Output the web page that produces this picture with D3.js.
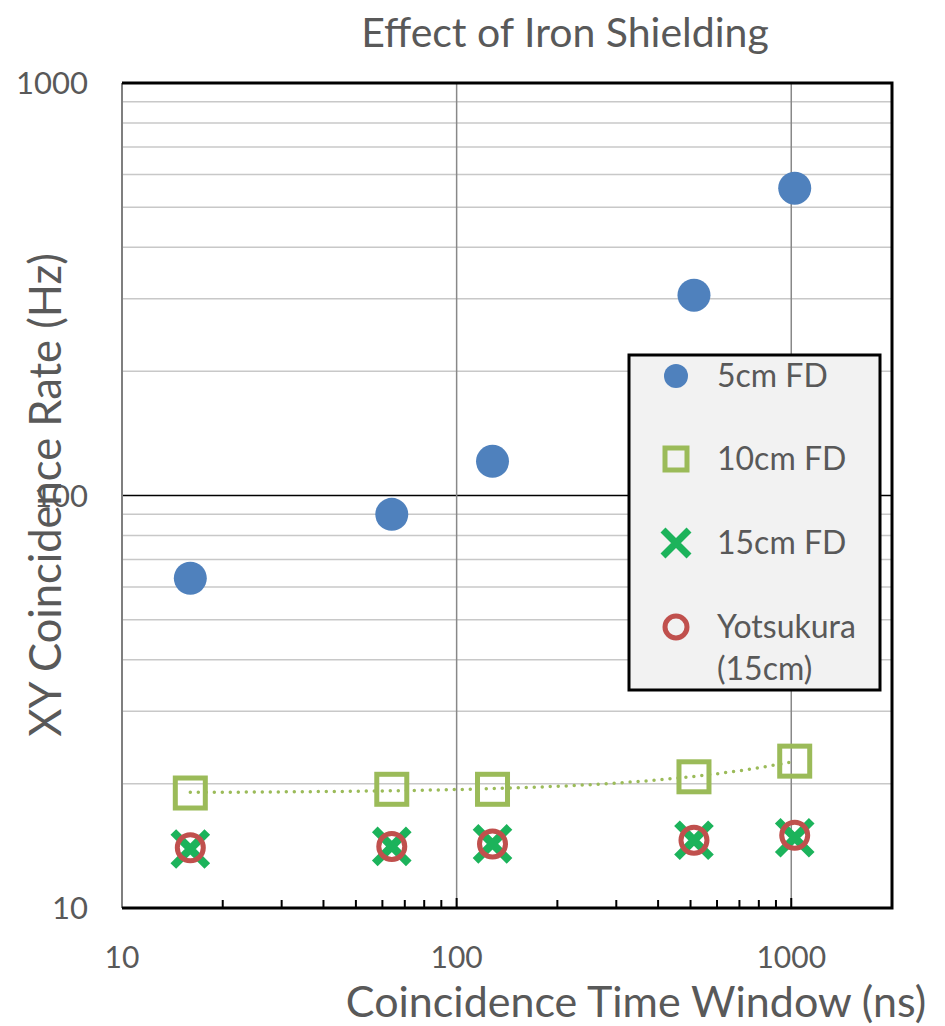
<!DOCTYPE html>
<html>
<head>
<meta charset="utf-8">
<script src="https://cdn.jsdelivr.net/npm/d3@7"></script>
<style>
  body { margin: 0; background: #fff; }
  text { font-family: Lato, "Open Sans", sans-serif; fill: #595959; }
</style>
</head>
<body>
<div id="chart"></div>
<script>
// Data
const windows = [16, 64, 128, 512, 1024];
const fd5 = [63, 90, 121, 306, 556];
const fd10 = [19.0, 19.4, 19.4, 20.8, 22.7];
const fd15 = [13.9, 14.1, 14.3, 14.6, 14.8];
const yotsukura = [14.0, 14.1, 14.3, 14.6, 15.0];
const xTicks = [10, 100, 1000];
const yTicks = [10, 100, 1000];
const legendLabels = ["5cm FD", "10cm FD", "15cm FD", ["Yotsukura", "(15cm)"]];

const chartWidth = 945;
const chartHeight = 1026;
const plotLeft = 122, plotRight = 892, plotTop = 83, plotBottom = 908;

const xScale = d3.scaleLog().domain([10, 2000]).range([plotLeft, plotRight]);
const yScale = d3.scaleLog().domain([10, 1000]).range([plotBottom, plotTop]);

const svg = d3.select("#chart")
    .append("svg")
    .attr("width", chartWidth)
    .attr("height", chartHeight);

// minor horizontal gridlines
const minorY = [];
[10, 100].forEach(d => { for (let k = 2; k <= 9; k++) minorY.push(d * k); });
svg.append("g").selectAll("line").data(minorY).join("line")
    .attr("x1", plotLeft).attr("x2", plotRight)
    .attr("y1", d => yScale(d)).attr("y2", d => yScale(d))
    .attr("stroke", "#c8c8c8").attr("stroke-width", 1.5);

// major gridlines
svg.append("line")
    .attr("x1", plotLeft).attr("x2", plotRight)
    .attr("y1", yScale(100)).attr("y2", yScale(100))
    .attr("stroke", "#000").attr("stroke-width", 1.5);
svg.append("g").selectAll("line").data([100, 1000]).join("line")
    .attr("x1", d => xScale(d)).attr("x2", d => xScale(d))
    .attr("y1", plotTop).attr("y2", plotBottom)
    .attr("stroke", "#888").attr("stroke-width", 1.5);

// x minor ticks (inside)
const minorX = [];
[10, 100, 1000].forEach(d => { for (let k = 1; k <= 9; k++) if (d * k <= 2000) minorX.push(d * k); });
svg.append("g").selectAll("line").data(minorX).join("line")
    .attr("x1", d => xScale(d)).attr("x2", d => xScale(d))
    .attr("y1", plotBottom).attr("y2", d => (xTicks.includes(d) ? plotBottom - 10 : plotBottom - 8))
    .attr("stroke", "#000").attr("stroke-width", 2);

// frame
svg.append("line").attr("x1", plotLeft).attr("x2", plotLeft).attr("y1", plotTop).attr("y2", plotBottom)
    .attr("stroke", "#7f7f7f").attr("stroke-width", 2);
svg.append("path")
    .attr("d", `M${plotLeft},${plotTop}H${plotRight}V${plotBottom}H${plotLeft}`)
    .attr("fill", "none").attr("stroke", "#000").attr("stroke-width", 3);

// tick labels
svg.append("g").selectAll("text").data(xTicks).join("text")
    .attr("x", d => xScale(d)).attr("y", 968)
    .attr("text-anchor", "middle").attr("font-size", 30)
    .text(d => d);
svg.append("g").selectAll("text").data(yTicks).join("text")
    .attr("x", 88).attr("y", d => yScale(d) + 11)
    .attr("text-anchor", "end").attr("font-size", 31)
    .text(d => d);

// titles
svg.append("text").attr("x", 565).attr("y", 47)
    .attr("text-anchor", "middle").attr("font-size", 41)
    .text("Effect of Iron Shielding");
svg.append("text").attr("x", 636).attr("y", 1017)
    .attr("text-anchor", "middle").attr("font-size", 43)
    .text("Coincidence Time Window (ns)");
svg.append("text")
    .attr("transform", `translate(61,495) rotate(-90)`)
    .attr("text-anchor", "middle").attr("font-size", 43.5)
    .text("XY Coincidence Rate (Hz)");

// linear trendline for 10cm FD
const n = windows.length;
const mx = d3.mean(windows), my = d3.mean(fd10);
const slope = d3.sum(windows, (x, i) => (x - mx) * (fd10[i] - my)) / d3.sum(windows, x => (x - mx) ** 2);
const intercept = my - slope * mx;
const trendX = d3.range(0, 201).map(i => windows[0] + (windows[n - 1] - windows[0]) * i / 200);
svg.append("path")
    .datum(trendX)
    .attr("fill", "none").attr("stroke", "#9bbb59").attr("stroke-width", 3.5)
    .attr("stroke-dasharray", "0,8").attr("stroke-linecap", "round")
    .attr("d", d3.line().x(d => xScale(d)).y(d => yScale(intercept + slope * d)));

// markers
const drawSquare = (g, x, y) => g.append("rect")
    .attr("x", x - 15).attr("y", y - 15).attr("width", 30).attr("height", 30)
    .attr("fill", "none").attr("stroke", "#9bbb59").attr("stroke-width", 5);
const drawCross = (g, x, y) => g.append("path")
    .attr("d", `M${x - 17},${y - 17}L${x + 17},${y + 17}M${x + 17},${y - 17}L${x - 17},${y + 17}`)
    .attr("stroke", "#1cb35b").attr("stroke-width", 8);
const drawRing = (g, x, y) => g.append("circle")
    .attr("cx", x).attr("cy", y).attr("r", 13)
    .attr("fill", "none").attr("stroke", "#c0504d").attr("stroke-width", 5);
const drawDot = (g, x, y, r) => g.append("circle")
    .attr("cx", x).attr("cy", y).attr("r", r).attr("fill", "#4f81bd");

const marks = svg.append("g");
windows.forEach((w, i) => drawDot(marks, xScale(w), yScale(fd5[i]), 16.5));
windows.forEach((w, i) => drawSquare(marks, xScale(w), yScale(fd10[i])));
windows.forEach((w, i) => drawCross(marks, xScale(w), yScale(fd15[i])));
windows.forEach((w, i) => drawRing(marks, xScale(w), yScale(yotsukura[i])));

// legend
const lg = svg.append("g");
lg.append("rect").attr("x", 629).attr("y", 355).attr("width", 251).attr("height", 335)
    .attr("fill", "#f2f2f2").attr("stroke", "#000").attr("stroke-width", 3);
const rowY = [376, 459, 543, 627];
const drawers = [(x, y) => drawDot(lg, x, y, 12), (x, y) => {
        lg.append("rect").attr("x", x - 11).attr("y", y - 11).attr("width", 22).attr("height", 22)
            .attr("fill", "none").attr("stroke", "#9bbb59").attr("stroke-width", 5);
    }, (x, y) => lg.append("path")
        .attr("d", `M${x - 13},${y - 13}L${x + 13},${y + 13}M${x + 13},${y - 13}L${x - 13},${y + 13}`)
        .attr("stroke", "#1cb35b").attr("stroke-width", 7),
    (x, y) => lg.append("circle").attr("cx", x).attr("cy", y).attr("r", 11)
        .attr("fill", "none").attr("stroke", "#c0504d").attr("stroke-width", 5)];
legendLabels.forEach((lab, i) => {
    drawers[i](676, rowY[i]);
    const lines = Array.isArray(lab) ? lab : [lab];
    lines.forEach((t, j) => lg.append("text")
        .attr("x", 717).attr("y", rowY[i] + 11 + j * 42)
        .attr("font-size", 32).text(t));
});
</script>
</body>
</html>
